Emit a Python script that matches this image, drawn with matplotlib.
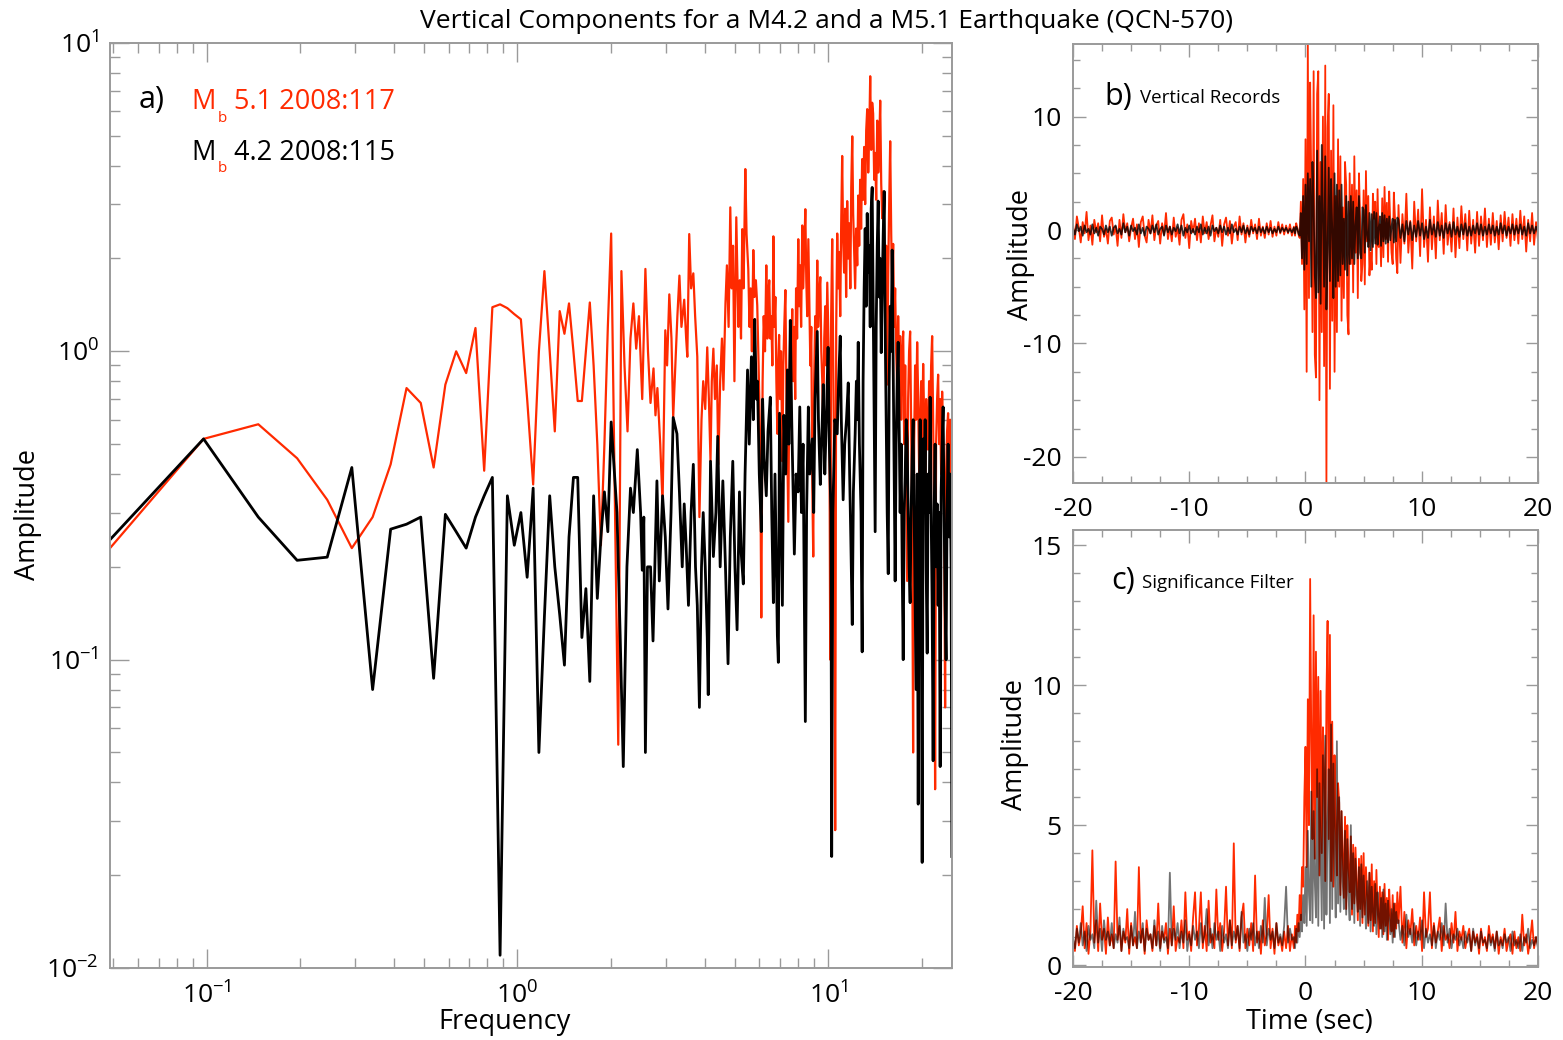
import numpy as np
import matplotlib
matplotlib.use('Agg')
import matplotlib.pyplot as plt
from matplotlib.ticker import LogLocator, MultipleLocator, NullFormatter

# ---- panel a: amplitude spectra (log-log) ----
df = 25.0 / 512  # frequency bin width

# first 41 bins, one value per bin
red_lo = [0.23, 0.52, 0.58, 0.45, 0.33, 0.23, 0.29, 0.43, 0.76, 0.68,
          0.42, 0.78, 1.0, 0.85, 1.19, 0.41, 1.39, 1.42, 1.38, 1.32,
          1.27, 0.7, 0.37, 1.0, 1.82, 1.0, 0.55, 1.35, 1.14, 1.43,
          1.0, 0.69, 0.69, 1.0, 1.44, 0.9, 0.5, 0.235, 0.5, 1.2, 2.41]
blk_lo = [0.245, 0.52, 0.29, 0.21, 0.215, 0.42, 0.08, 0.265, 0.275, 0.29,
          0.087, 0.296, 0.26, 0.23, 0.29, 0.34, 0.39, 0.011, 0.34, 0.235,
          0.30, 0.185, 0.36, 0.05, 0.138, 0.34, 0.2, 0.14, 0.096, 0.25,
          0.39, 0.39, 0.118, 0.17, 0.085, 0.34, 0.158, 0.25, 0.35, 0.26, 0.59]

# higher frequencies
red_hi_f = [2.11, 2.16, 2.21, 2.26, 2.31, 2.36, 2.41, 2.46, 2.52, 2.58, 2.63, 2.68, 2.74, 2.78, 2.82,
            2.88, 2.93, 2.99, 3.03, 3.08, 3.13, 3.17, 3.22, 3.27, 3.32, 3.37, 3.44, 3.49, 3.52, 3.57,
            3.62, 3.68, 3.73, 3.79, 3.85, 3.91, 3.96, 4.02, 4.08, 4.13, 4.18, 4.22, 4.27, 4.32, 4.38,
            4.43, 4.49, 4.55, 4.60, 4.67, 4.72, 4.78, 4.84, 4.89, 4.94, 4.99, 5.06, 5.14, 5.19, 5.24,
            5.29, 5.34, 5.41, 5.46, 5.53, 5.58, 5.63, 5.68, 5.74, 5.79, 5.85, 5.91, 5.97, 6.04, 6.09,
            6.15, 6.20, 6.26, 6.32, 6.37, 6.41, 6.46, 6.51, 6.56, 6.61, 6.66, 6.71, 6.76, 6.81, 6.86,
            6.90, 6.95, 7.00, 7.05, 7.12, 7.17, 7.22, 7.28, 7.33, 7.38, 7.44, 7.49, 7.54, 7.60, 7.66,
            7.71, 7.77, 7.83, 7.88, 7.94, 8.01, 8.06, 8.12, 8.18, 8.25, 8.30, 8.36, 8.44, 8.50, 8.56,
            8.63, 8.70, 8.76, 8.82, 8.89, 8.95, 9.01, 9.08, 9.15, 9.22, 9.28, 9.35, 9.43, 9.50, 9.57,
            9.64, 9.71, 9.78, 9.85, 9.93, 10.00, 10.08, 10.15, 10.22, 10.30, 10.38, 10.45, 10.53, 10.61, 10.69,
            10.77, 10.85, 10.93, 11.01, 11.09, 11.17, 11.25, 11.34, 11.42, 11.51, 11.60, 11.69, 11.78, 11.86, 11.95,
            12.03, 12.12, 12.21, 12.30, 12.40, 12.49, 12.58, 12.67, 12.76, 12.86, 12.96, 13.05, 13.15, 13.25, 13.35,
            13.45, 13.55, 13.65, 13.75, 13.85, 13.95, 14.06, 14.16, 14.27, 14.38, 14.49, 14.59, 14.70, 14.81, 14.92,
            15.03, 15.14, 15.25, 15.37, 15.48, 15.60, 15.71, 15.83, 15.95, 16.06, 16.18, 16.30, 16.42, 16.54, 16.67,
            16.79, 16.91, 17.04, 17.17, 17.30, 17.43, 17.56, 17.69, 17.82, 17.95, 18.08, 18.21, 18.35, 18.48, 18.62,
            18.76, 18.90, 19.04, 19.18, 19.33, 19.48, 19.62, 19.76, 19.91, 20.06, 20.21, 20.36, 20.51, 20.66, 20.82,
            20.97, 21.12, 21.28, 21.44, 21.60, 21.76, 21.92, 22.08, 22.24, 22.41, 22.58, 22.75, 22.92, 23.09, 23.26,
            23.43, 23.60, 23.78, 23.95, 24.13, 24.31, 24.49, 24.68, 24.86, 25.0]
red_hi_a = [0.053, 1.82, 0.9, 0.55, 1.1, 1.43, 1.02, 1.3, 0.70, 1.85, 1.0, 0.68, 0.88, 0.62, 0.76,
            0.5, 0.32, 1.17, 0.9, 1.53, 1.1, 0.61, 0.9, 1.3, 1.76, 1.2, 1.47, 1.1, 0.96, 2.4,
            1.6, 1.79, 1.3, 0.96, 0.29, 0.6, 0.80, 0.65, 1.03, 0.7, 0.44, 0.8, 1.02, 0.7, 0.9,
            0.43, 0.8, 1.1, 0.75, 1.43, 1.9, 1.2, 2.93, 1.6, 2.2, 0.8, 2.72, 1.2, 1.7, 1.1,
            2.49, 1.6, 3.9, 2.4, 1.85, 1.2, 1.6, 1.0, 2.13, 1.5, 1.7, 1.41, 0.9, 0.5, 0.137,
            0.8, 1.3, 1.0, 1.9, 1.1, 1.5, 1.70, 1.1, 1.3, 0.9, 2.36, 1.2, 1.5, 0.8, 0.54,
            0.9, 1.13, 0.7, 1.0, 0.44, 0.9, 1.2, 1.58, 0.8, 0.5, 0.28, 0.7, 1.1, 0.9, 1.37,
            0.8, 1.2, 0.7, 1.6, 1.1, 2.31, 1.4, 1.9, 1.2, 2.56, 1.6, 2.0, 2.89, 1.7, 1.3,
            2.31, 1.4, 0.9, 1.2, 0.36, 0.216, 0.8, 1.3, 1.0, 1.97, 1.2, 1.5, 1.74, 1.0, 0.8,
            0.54, 1.1, 1.4, 0.9, 1.67, 1.2, 0.8, 0.1, 1.3, 2.31, 0.9, 0.4, 0.028, 1.2, 2.41,
            1.6, 2.1, 1.3, 2.6, 4.3, 2.3, 1.8, 2.9, 1.5, 3.07, 2.0, 2.6, 1.6, 3.4, 4.98,
            2.8, 2.1, 1.6, 2.5, 1.9, 3.2, 2.2, 3.6, 2.5, 4.2, 3.1, 4.6, 3.0, 5.2, 6.1,
            3.8, 5.0, 7.8, 4.5, 6.4, 5.9, 3.6, 4.4, 3.1, 5.6, 3.8, 4.6, 6.5, 3.5, 2.7,
            3.3, 2.0, 1.5, 2.2, 0.78, 1.8, 3.0, 4.8, 2.4, 1.6, 2.23, 1.2, 1.6, 1.0, 0.78,
            1.3, 0.9, 1.12, 0.6, 1.0, 1.16, 0.5, 0.9, 0.4, 0.18, 0.7, 1.0, 1.16, 0.6, 0.3,
            0.05, 0.5, 0.9, 0.6, 1.07, 0.7, 0.4, 0.56, 0.8, 0.5, 0.91, 0.6, 0.3, 0.7, 0.5,
            0.48, 0.8, 0.5, 0.9, 1.12, 0.6, 0.3, 0.038, 0.5, 0.7, 0.84, 0.5, 0.7, 0.4, 0.74,
            0.5, 0.3, 0.07, 0.4, 0.55, 0.63, 0.4, 0.6, 0.3, 0.44]

blk_hi_f = [2.09, 2.14, 2.19, 2.25, 2.31, 2.36, 2.43, 2.49, 2.52, 2.55, 2.58, 2.62, 2.68, 2.73, 2.81,
            2.86, 2.93, 2.99, 3.05, 3.12, 3.17, 3.26, 3.32, 3.39, 3.44, 3.49, 3.55, 3.62, 3.68, 3.74,
            3.79, 3.85, 3.91, 3.96, 4.02, 4.08, 4.11, 4.18, 4.27, 4.35, 4.41, 4.49, 4.58, 4.67, 4.76,
            4.84, 4.93, 5.01, 5.09, 5.18, 5.25, 5.33, 5.40, 5.50, 5.57, 5.66, 5.74, 5.80, 5.87, 5.92,
            6.00, 6.09, 6.15, 6.22, 6.32, 6.40, 6.51, 6.58, 6.66, 6.74, 6.86, 6.91, 6.97, 7.05, 7.12,
            7.20, 7.30, 7.39, 7.47, 7.55, 7.63, 7.78, 7.88, 8.00, 8.10, 8.20, 8.30, 8.44, 8.52, 8.63,
            8.72, 8.89, 8.98, 9.07, 9.22, 9.30, 9.43, 9.52, 9.64, 9.75, 9.86, 9.99, 10.08, 10.20, 10.26,
            10.35, 10.50, 10.69, 10.80, 10.93, 11.02, 11.17, 11.30, 11.45, 11.60, 11.72, 11.82, 11.95, 12.05, 12.21,
            12.32, 12.40, 12.49, 12.60, 12.75, 12.86, 12.95, 13.05, 13.15, 13.25, 13.35, 13.45, 13.55, 13.65, 13.75,
            13.85, 13.95, 14.06, 14.16, 14.27, 14.38, 14.48, 14.59, 14.70, 14.81, 14.92, 15.03, 15.14, 15.25, 15.37,
            15.48, 15.60, 15.71, 15.83, 15.94, 16.06, 16.18, 16.30, 16.42, 16.54, 16.67, 16.79, 16.91, 17.04, 17.17,
            17.30, 17.43, 17.56, 17.69, 17.82, 17.95, 18.08, 18.21, 18.35, 18.48, 18.62, 18.76, 18.90, 19.04, 19.18,
            19.33, 19.48, 19.62, 19.76, 19.91, 20.06, 20.21, 20.36, 20.51, 20.66, 20.82, 20.97, 21.12, 21.28, 21.44,
            21.60, 21.76, 21.92, 22.08, 22.24, 22.41, 22.58, 22.75, 22.92, 23.09, 23.26, 23.43, 23.60, 23.78, 23.95,
            24.13, 24.31, 24.49, 24.68, 24.86, 25.0]
blk_hi_a = [0.3, 0.12, 0.045, 0.2, 0.36, 0.3, 0.48, 0.3, 0.195, 0.29, 0.05, 0.2, 0.2, 0.115, 0.38,
            0.18, 0.34, 0.25, 0.146, 0.3, 0.61, 0.54, 0.35, 0.2, 0.32, 0.235, 0.15, 0.3, 0.43, 0.2,
            0.15, 0.07, 0.2, 0.30, 0.2, 0.118, 0.077, 0.44, 0.216, 0.3, 0.53, 0.2, 0.38, 0.2, 0.097,
            0.25, 0.44, 0.2, 0.125, 0.35, 0.22, 0.176, 0.4, 0.87, 0.5, 0.96, 0.6, 1.27, 0.7, 0.8,
            0.4, 0.26, 0.70, 0.45, 0.34, 0.55, 0.71, 0.3, 0.153, 0.4, 0.12, 0.098, 0.63, 0.3, 0.15,
            0.62, 0.4, 0.87, 0.5, 1.26, 0.6, 0.22, 0.4, 0.35, 0.66, 0.3, 0.5, 0.063, 0.3, 0.66,
            0.4, 0.52, 0.3, 0.7, 1.16, 0.6, 0.37, 0.5, 0.78, 0.4, 0.6, 1.03, 0.5, 0.30, 0.023,
            0.3, 0.6, 0.54, 0.8, 1.12, 0.6, 0.33, 0.5, 0.6, 0.79, 0.4, 0.25, 0.13, 0.35, 0.54,
            0.8, 0.6, 1.07, 0.5, 0.3, 0.106, 0.8, 1.6, 2.5, 1.4, 2.8, 1.8, 2.2, 1.2, 2.9,
            3.4, 1.5, 0.6, 0.26, 1.2, 2.2, 3.07, 1.5, 2.0, 0.99, 1.6, 2.4, 3.3, 1.2, 0.6,
            0.3, 0.19, 0.8, 1.4, 1.0, 2.13, 0.9, 0.4, 0.18, 0.5, 0.8, 1.07, 0.6, 0.3, 0.5,
            0.2, 0.1, 0.3, 0.4, 0.6, 0.52, 0.3, 0.2, 0.153, 0.3, 0.45, 0.6, 0.3, 0.15, 0.08,
            0.4, 0.034, 0.3, 0.6, 0.2, 0.022, 0.52, 0.3, 0.6, 0.2, 0.105, 0.4, 0.3, 0.71, 0.3,
            0.15, 0.047, 0.3, 0.5, 0.2, 0.32, 0.15, 0.3, 0.045, 0.35, 0.5, 0.66, 0.3, 0.15, 0.1,
            0.3, 0.5, 0.25, 0.40, 0.2, 0.023]

# ---- panel b: vertical records (segments: before, during, after the burst) ----
b_red = [
    (-20, -1.17, [0.5, -0.8, 1.2, 0.2, -1.1, 0.7, -0.3, 1.6, -0.9, 0.4,
                  -1.3, 0.9, -0.2, 0.6, -1.0, 1.3, -0.6, 0.1, -1.2, 0.8,
                  1.1, -0.4, 0.3, -1.4, 0.9, -0.7, 1.4, -0.2, 0.6, -1.0,
                  0.2, 1.0, -0.8, 0.5, -1.5, 0.7, 1.2, -0.5, -1.1, 0.9,
                  -0.3, 1.3, -0.9, 0.4, 0.8, -1.2, 0.6, -0.4, 1.5, -0.8,
                  0.3, -1.0, 1.1, -0.6, 0.2, -1.3, 0.9, 1.4, -0.7, 0.5,
                  -1.6, 0.8, -0.2, 1.0, -0.9, 0.6, -1.1, 1.2, -0.3, 0.7,
                  -0.8, 0.4, 1.3, -1.0, 0.2, -0.6, 0.9, -1.4, 0.5, 1.1,
                  -0.5, 0.8, -1.2, 0.3, 0.7, -0.9, 1.2, -0.4, 0.6, -1.1,
                  0.4, -0.6, 0.9, -0.3, 0.5, -0.8, 1.0, -0.5, 0.3, -0.7,
                  0.6, -0.4, 0.8, -0.6, 0.3, -0.5, 0.7, -0.3, 0.5, -0.4,
                  0.4, -0.3, 0.5, -0.5]),
    (-1.0, 7.9, [0.3, -0.5, 0.6, 0.2, -0.4, -0.7, 2.5, -3.0, 4.5, -7,
                 8, -12.5, 16.5, -6, 13, 4, -9, 14, -11, -13,
                 12, 14, -15, 6, -9, 10, -12, 14.5, -22.5, 9,
                 12, -14, 7, -8, 11, -12.5, 3, -9, 8, -5,
                 6.5, -8, 2, -6, 6, 4, -7.5, -9.2, 5, -3,
                 4, -5.5, 6.5, -2, 3.5, -6, 5, 1, -4.5, -3,
                 3.5, -4.8, 5.2, -1, 3, -4, -2, -3.5, 3.2, 1,
                 2.5, -3, 3.6, -1.5, 0.5, -3.2, 2.8, -2.4, 3.8, -0.8,
                 2.4, -2.8, 3.4, 0.5, -2, -3, 3.3, 1, -2.5, -3.8]),
    (8, 20, [2.2, -2.9, 1.4, -1.2, 3.2, -2.0, 0.8, -3.4, 2.5, -1.0,
             1.8, -2.3, 3.6, -1.5, 0.9, -2.8, 2.0, -1.7, 1.2, -2.5,
             2.6, -0.9, 1.5, -2.1, 2.2, -1.3, 0.7, -1.9, 1.9, -2.4,
             1.1, -1.6, 2.1, -0.8, 1.4, -1.8, 1.7, -1.2, 0.9, -2.0,
             1.6, -1.4, 1.2, -0.9, 1.9, -1.5, 1.0, -1.3, 1.5, -1.1,
             0.8, -1.7, 1.3, -1.0, 1.6, -0.7, 1.1, -1.4, 1.4, -0.9,
             1.0, -1.2, 1.7, -0.8, 1.2, -1.9, 0.9, -1.0, 1.5, -1.3,
             0.7, -0.9]),
]
b_blk = [
    (-20, -1.17, [0.2, -0.4, 0.5, -0.1, 0.3, -0.5, 0.4, -0.2, 0.1, -0.4,
                  0.5, -0.3, 0.2, -0.5, 0.3, 0.1, -0.4, 0.4, -0.2, 0.3,
                  -0.5, 0.2, 0.4, -0.3, 0.1, -0.4, 0.6, -0.2, 0.3, -0.5,
                  0.4, -0.1, 0.2, -0.4, 0.5, -0.3, 0.2, -0.5, 0.3, 0.1,
                  -0.3, 0.4, -0.2, 0.5, -0.4, 0.1, 0.3, -0.5, 0.4, -0.2,
                  0.3, -0.4, 0.2, -0.1, 0.5, -0.3, 0.4, -0.5, 0.2, -0.2,
                  0.4, -0.3, 0.1, -0.4, 0.3, -0.2, 0.5, -0.4, 0.2, -0.3,
                  0.3, -0.5, 0.4, -0.1, 0.2, -0.3, 0.4, -0.2, 0.3, -0.4,
                  0.2, -0.3, 0.5, -0.2, 0.1, -0.4, 0.3, -0.2, 0.4, -0.3,
                  0.2, -0.4, 0.3, -0.1, 0.2, -0.3, 0.3, -0.2, 0.2, -0.3,
                  0.3, -0.2, 0.2, -0.3, 0.1, -0.2, 0.3, -0.2, 0.2, -0.1,
                  0.2, -0.2, 0.1, -0.2]),
    (-1.0, 7.9, [0.2, -0.3, 0.3, 0.1, -0.3, -0.5, 1.5, -2.5, 3, -3.5,
                 4, -3, 5, -1, 4.5, -5, 6, 2, -4, -6,
                 7, -5.5, 3, -6.5, 7.5, 1, -5, 6.5, -7, -2,
                 5.5, -4.5, 4.5, 0, -6, 5, -5, 4, -4.5, 3.5,
                 -4, 4, -3, 1, -3.5, 3, -4, 2.5, -3, 3,
                 -2.5, 2.5, -3, 0.5, 2, -2.5, 3, -2, -2.5, 2,
                 1.8, -2, 2.2, -0.5, -1.5, 1.5, -1.8, 1.4, -1.5, 1.6,
                 -1.2, 1.5, -1.3, 0.2, 1.2, -1.4, 1.5, -1.0, 1.3, -1.2,
                 1.0, -1.1, 1.2, -0.9, 0.3, 1.0, -1.1, 0.9, -1.0, 1.1]),
    (8, 20, [0.9, -0.7, 0.5, -1.0, 0.8, -0.4, 0.7, -0.9, 0.4, -0.6,
             0.8, -0.5, 0.6, -0.8, 0.3, -0.7, 0.9, -0.4, 0.5, -0.6,
             0.7, -0.5, 0.4, -0.7, 0.6, -0.3, 0.5, -0.6, 0.7, -0.4,
             0.3, -0.6, 0.5, -0.4, 0.6, -0.5, 0.3, -0.5, 0.4, -0.3,
             0.6, -0.4, 0.5, -0.5, 0.3, -0.4, 0.5, -0.3, 0.4, -0.5,
             0.3, -0.4, 0.6, -0.3, 0.4, -0.5, 0.3, -0.3, 0.5, -0.4,
             0.4, -0.3, 0.5, -0.4, 0.3, -0.5, 0.6, -0.3, 0.4, -0.3,
             0.3, -0.2]),
]

# ---- panel c: significance filter ----
c_red = [
    (-20, -1.17, [0.9, 0.5, 1.4, 0.7, 1.1, 2.1, 0.6, 1.5, 0.4, 1.2,
                  4.1, 0.8, 1.6, 0.5, 2.2, 0.9, 1.3, 0.4, 1.7, 0.7,
                  1.1, 0.6, 3.7, 0.9, 1.4, 0.5, 1.2, 0.8, 2.0, 0.4,
                  1.5, 0.7, 1.0, 0.6, 3.5, 0.8, 1.3, 0.4, 1.6, 0.9,
                  1.1, 0.5, 1.4, 0.7, 2.2, 0.6, 1.2, 0.9, 1.5, 0.4,
                  1.3, 0.7, 2.1, 0.5, 1.0, 0.8, 1.6, 0.6, 2.6, 0.9,
                  1.2, 0.5, 1.7, 2.6, 0.7, 1.3, 2.6, 0.6, 1.4, 0.5,
                  2.3, 0.8, 1.1, 0.6, 2.7, 0.9, 1.5, 0.5, 1.2, 2.8,
                  0.7, 1.6, 0.6, 4.35, 0.8, 1.4, 0.5, 1.7, 2.2, 0.6,
                  1.3, 0.7, 1.5, 0.5, 3.2, 0.8, 1.2, 0.4, 1.6, 0.7,
                  1.1, 2.5, 0.6, 1.3, 0.4, 1.5, 0.7, 1.0, 0.5, 1.2,
                  0.6, 1.4, 0.5, 1.1]),
    (-1.0, 7.9, [0.6, 1.4, 0.8, 1.8, 1.2, 2.5, 1.6, 3.5, 2.8, 6.0,
                 7.8, 3.5, 9.5, 5, 13.8, 8, 4.5, 12.5, 3.8, 11.2,
                 6, 10.3, 3.2, 9.8, 4, 8.5, 7, 3, 9.6, 12.3,
                 4.5, 11.8, 3, 8.7, 2.8, 7.5, 5, 3.2, 6.5, 5.8,
                 2.5, 5.5, 4, 2.4, 5.3, 2, 5.0, 3.5, 2.6, 4.6,
                 1.8, 4.3, 2.2, 4.2, 3, 1.6, 3.8, 2.0, 3.9, 1.5,
                 4.0, 1.8, 3.5, 2.5, 1.4, 3.3, 1.6, 3.6, 1.2, 3.0,
                 1.5, 3.4, 2, 1.0, 2.8, 1.3, 2.6, 1.1, 2.9, 1.4,
                 2.4, 0.9, 2.7, 1.8, 1.2, 2.5, 1.0, 2.2, 1.3, 2.6]),
    (8, 20, [1.5, 2.8, 0.8, 1.9, 0.6, 1.6, 1.1, 2.0, 0.7, 1.4,
             0.9, 1.7, 0.5, 2.6, 1.0, 1.3, 2.6, 0.6, 1.5, 0.8,
             1.2, 1.7, 0.5, 1.4, 0.9, 1.1, 0.6, 1.5, 0.8, 1.9,
             0.5, 1.2, 0.9, 1.4, 0.6, 1.0, 1.3, 0.5, 1.2, 0.8,
             1.1, 0.4, 1.3, 0.7, 1.0, 0.5, 1.4, 0.8, 1.1, 0.6,
             1.2, 0.4, 1.0, 0.7, 1.3, 0.5, 0.9, 1.1, 0.4, 1.2,
             0.6, 1.0, 0.5, 1.8, 0.7, 1.1, 0.4, 0.9, 1.6, 0.6,
             1.0, 0.7]),
]
c_blk = [
    (-20, -1.17, [1.0, 0.6, 1.3, 0.8, 1.5, 0.7, 1.2, 0.5, 1.4, 0.9,
                  1.1, 0.6, 2.3, 0.8, 1.3, 0.5, 1.6, 0.9, 1.2, 0.7,
                  1.5, 0.6, 1.1, 0.8, 1.7, 0.5, 1.3, 0.9, 1.0, 0.6,
                  1.4, 0.7, 1.9, 0.6, 1.2, 0.8, 1.5, 0.5, 1.3, 0.9,
                  1.1, 0.6, 1.6, 0.7, 1.2, 0.5, 1.4, 0.8, 1.0, 0.6,
                  3.3, 0.7, 1.3, 0.9, 1.5, 0.6, 1.2, 0.8, 1.6, 0.5,
                  1.1, 0.7, 1.4, 0.9, 1.2, 0.6, 1.5, 0.8, 1.1, 2.0,
                  0.7, 1.3, 0.6, 1.5, 0.9, 1.2, 0.5, 1.4, 0.8, 1.1,
                  0.6, 1.6, 0.7, 1.2, 0.9, 1.4, 0.6, 1.9, 0.8, 1.1,
                  0.5, 1.3, 0.9, 1.5, 0.7, 1.2, 0.6, 1.4, 0.8, 2.4,
                  0.7, 1.3, 0.9, 1.2, 0.6, 1.5, 0.8, 1.1, 0.7, 1.4,
                  2.8, 0.8, 1.3, 0.9]),
    (-1.0, 7.9, [1.0, 0.6, 1.3, 0.8, 1.5, 1.0, 1.8, 1.2, 2.5, 1.5,
                 3.5, 1.4, 4.8, 2.5, 1.6, 6.2, 1.5, 5.5, 3, 1.7,
                 7.0, 1.4, 6.5, 4, 1.6, 7.5, 1.3, 8.2, 1.8, 5,
                 7.0, 1.5, 8.6, 2.0, 7.2, 4, 1.7, 8.0, 2.2, 6.0,
                 1.9, 5.5, 3, 2.0, 4.8, 1.8, 4.5, 2.5, 1.6, 5.0,
                 2.0, 4.0, 1.5, 3.8, 2.5, 1.9, 3.5, 1.4, 3.6, 1.7,
                 3.2, 2.2, 1.3, 3.0, 1.5, 3.3, 1.2, 2.8, 1.9, 1.4,
                 2.9, 1.1, 2.6, 1.8, 1.3, 2.4, 1.0, 2.7, 1.2, 2.2,
                 0.9, 2.3, 1.6, 1.1, 2.0, 0.8, 2.2, 1.0, 1.9, 1.5]),
    (8, 20, [1.6, 0.9, 1.4, 0.7, 1.8, 1.0, 1.3, 0.8, 1.5, 0.7,
             1.2, 0.9, 1.6, 0.6, 1.3, 0.8, 1.1, 0.7, 1.4, 0.6,
             1.2, 0.9, 1.5, 0.7, 2.2, 0.8, 1.3, 0.6, 1.1, 0.9,
             1.3, 0.7, 1.0, 0.6, 1.2, 0.8, 1.1, 0.5, 1.3, 0.7,
             1.0, 0.6, 1.2, 0.8, 0.9, 0.6, 1.1, 0.7, 1.0, 0.5,
             1.2, 0.7, 0.9, 0.6, 1.1, 0.8, 1.0, 0.5, 1.2, 0.7,
             0.9, 0.6, 1.1, 0.5, 1.0, 0.8, 1.3, 0.6, 0.9, 0.7,
             1.0, 0.6]),
]

RED = '#ff2a00'
FRAME = '#9a9a9a'

plt.rcParams['font.family'] = ['Open Sans', 'DejaVu Sans']
plt.rcParams['mathtext.fontset'] = 'custom'
plt.rcParams['mathtext.rm'] = 'Open Sans'
plt.rcParams['axes.unicode_minus'] = False


def series(segments):
    t, v = [], []
    for t0, t1, vals in segments:
        t.append(np.linspace(t0, t1, len(vals)))
        v.append(np.asarray(vals, dtype=float))
    return np.concatenate(t), np.concatenate(v)


def style_axes(ax):
    for s in ax.spines.values():
        s.set_color(FRAME)
        s.set_linewidth(1.4)
    ax.tick_params(which='both', direction='in', top=True, right=True,
                   color=FRAME, width=1.0, labelsize=19, pad=8)
    ax.tick_params(axis='x', pad=10)
    ax.tick_params(which='major', length=9)
    ax.tick_params(which='minor', length=5)


fig = plt.figure(figsize=(15.63, 10.40), dpi=100)
ax_a = fig.add_axes([0.0704, 0.0692, 0.5386, 0.8895])
ax_b = fig.add_axes([0.6865, 0.5356, 0.2975, 0.4221])
ax_c = fig.add_axes([0.6865, 0.0702, 0.2975, 0.4202])

# panel a
f_red = np.concatenate([np.arange(1, len(red_lo) + 1) * df, red_hi_f])
a_red = np.concatenate([red_lo, red_hi_a])
f_blk = np.concatenate([np.arange(1, len(blk_lo) + 1) * df, blk_hi_f])
a_blk = np.concatenate([blk_lo, blk_hi_a])
ax_a.plot(f_red, a_red, color=RED, lw=1.6)
ax_a.plot(f_blk, a_blk, color='black', lw=2.0)
ax_a.set_xscale('log')
ax_a.set_yscale('log')
ax_a.set_xlim(df, 25)
ax_a.set_ylim(1e-2, 1e1)
ax_a.xaxis.set_minor_locator(LogLocator(base=10, subs=np.arange(2, 10)))
ax_a.yaxis.set_minor_locator(LogLocator(base=10, subs=np.arange(2, 10)))
ax_a.xaxis.set_minor_formatter(NullFormatter())
ax_a.yaxis.set_minor_formatter(NullFormatter())
style_axes(ax_a)
ax_a.tick_params(which='major', length=14)
ax_a.tick_params(which='minor', length=7)

# panel b
tb, vb = series(b_red)
ax_b.plot(tb, vb, color=RED, lw=1.3)
tb, vb = series(b_blk)
ax_b.plot(tb, vb, color='black', lw=1.3, alpha=0.8)
ax_b.set_xlim(-20, 20)
ax_b.set_ylim(-22.3, 16.4)
ax_b.xaxis.set_major_locator(MultipleLocator(10))
ax_b.xaxis.set_minor_locator(MultipleLocator(2.5))
ax_b.yaxis.set_major_locator(MultipleLocator(10))
ax_b.yaxis.set_minor_locator(MultipleLocator(2.5))
style_axes(ax_b)

# panel c
tc, vc = series(c_red)
ax_c.plot(tc, vc, color=RED, lw=1.3)
tc, vc = series(c_blk)
ax_c.plot(tc, vc, color='black', lw=1.3, alpha=0.55)
ax_c.set_xlim(-20, 20)
ax_c.set_ylim(-0.07, 15.55)
ax_c.xaxis.set_major_locator(MultipleLocator(10))
ax_c.xaxis.set_minor_locator(MultipleLocator(2.5))
ax_c.yaxis.set_major_locator(MultipleLocator(5))
ax_c.yaxis.set_minor_locator(MultipleLocator(1))
style_axes(ax_c)

# texts
fig.text(0.529, 0.979, 'Vertical Components for a M4.2 and a M5.1 Earthquake (QCN-570)',
         ha='center', va='center', fontsize=19)
fig.text(0.018, 0.505, 'Amplitude', rotation=90, ha='center', va='center', fontsize=19.5)
fig.text(0.323, 0.017, 'Frequency', ha='center', va='center', fontsize=19.5)
fig.text(0.653, 0.755, 'Amplitude', rotation=90, ha='center', va='center', fontsize=19.5)
fig.text(0.6495, 0.284, 'Amplitude', rotation=90, ha='center', va='center', fontsize=19.5)
fig.text(0.838, 0.017, 'Time (sec)', ha='center', va='center', fontsize=19.5)

fig.text(0.097, 0.904, 'a)', ha='center', va='center', fontsize=22)
fig.text(0.1225, 0.902, 'M', color=RED, ha='left', va='center', fontsize=19.5)
fig.text(0.1395, 0.8865, 'b', color=RED, ha='left', va='center', fontsize=11)
fig.text(0.1495, 0.902, '5.1 2008:117', color=RED, ha='left', va='center', fontsize=19.5)
fig.text(0.1225, 0.853, 'M', color='black', ha='left', va='center', fontsize=19.5)
fig.text(0.1395, 0.8375, 'b', color=RED, ha='left', va='center', fontsize=11)
fig.text(0.1495, 0.853, '4.2 2008:115', color='black', ha='left', va='center', fontsize=19.5)

fig.text(0.7155, 0.907, 'b)', ha='center', va='center', fontsize=22)
fig.text(0.7295, 0.906, 'Vertical Records', ha='left', va='center', fontsize=13.5)
fig.text(0.7185, 0.441, 'c)', ha='center', va='center', fontsize=22)
fig.text(0.7305, 0.439, 'Significance Filter', ha='left', va='center', fontsize=13.5)

fig.savefig('out.png', dpi=100)
